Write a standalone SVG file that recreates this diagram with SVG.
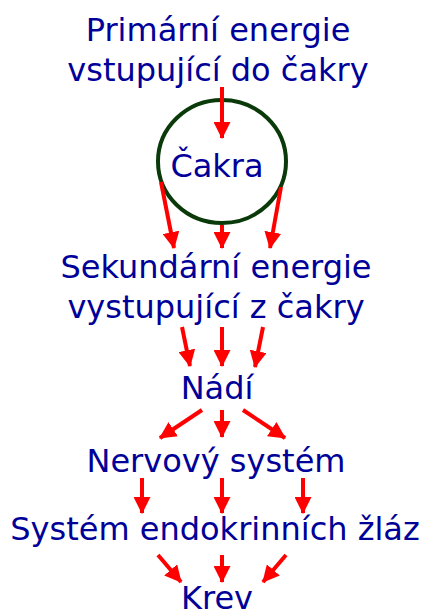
<svg xmlns="http://www.w3.org/2000/svg" width="426" height="611" viewBox="0 0 426 611">
<style>
text{font-family:"DejaVu Sans",Verdana,sans-serif;font-size:32px;fill:#000099;text-anchor:middle}
.c line{stroke:#ff0000;stroke-width:4;marker-end:url(#ah)}
</style>
<defs>
<marker id="ah" markerUnits="userSpaceOnUse" markerWidth="17" markerHeight="17" viewBox="0 0 16 16" refX="15" refY="8" orient="auto">
<path d="M0,0 L16,8 L0,16 Z" fill="#ff0000"/>
</marker>
</defs>
<rect width="426" height="611" fill="#fff"/>
<g id="primarni"><text x="218" y="41">Primární energie</text><text x="218" y="81">vstupující do čakry</text></g>
<g id="cakra"><ellipse cx="222" cy="161.5" rx="64" ry="61.5" fill="none" stroke="#0a3a0a" stroke-width="4"/><text x="217" y="177">Čakra</text></g>
<g id="sekundarni"><text x="216" y="278">Sekundární energie</text><text x="216" y="318">vystupující z čakry</text></g>
<g id="nadi"><text x="217" y="399">Nádí</text></g>
<g id="nervovy"><text x="216" y="472">Nervový systém</text></g>
<g id="endokrinni"><text x="215" y="540">Systém endokrinních žláz</text></g>
<g id="krev"><text x="217" y="609">Krev</text></g>
<g class="c" id="connectors">
<line x1="222" y1="87" x2="222" y2="138"/>
<line x1="161" y1="182" x2="174" y2="248"/>
<line x1="222" y1="225" x2="222" y2="248"/>
<line x1="281" y1="187" x2="270" y2="248"/>
<line x1="182" y1="327" x2="190" y2="366"/>
<line x1="222" y1="327" x2="222" y2="366"/>
<line x1="263" y1="327" x2="255" y2="367"/>
<line x1="202" y1="410" x2="160" y2="438"/>
<line x1="222" y1="410" x2="222" y2="437"/>
<line x1="243" y1="410" x2="285" y2="438"/>
<line x1="142" y1="478" x2="142" y2="513"/>
<line x1="222" y1="478" x2="222" y2="513"/>
<line x1="303" y1="478" x2="303" y2="513"/>
<line x1="158" y1="555" x2="181" y2="582"/>
<line x1="222" y1="555" x2="222" y2="582"/>
<line x1="286" y1="555" x2="263" y2="582"/>
</g>
</svg>
